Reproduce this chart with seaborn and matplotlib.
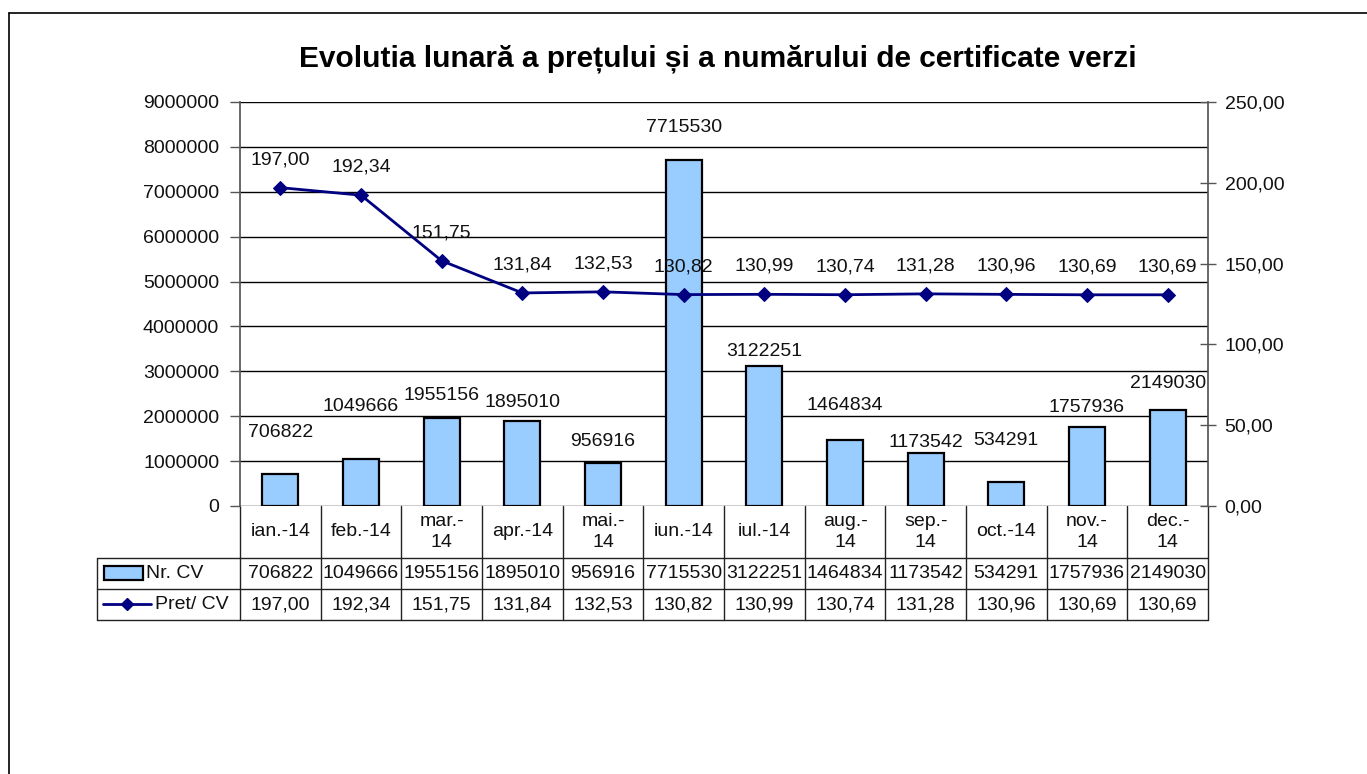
import matplotlib
matplotlib.use('Agg')
import matplotlib.pyplot as plt
import seaborn as sns
import pandas as pd
import numpy as np
from matplotlib.transforms import blended_transform_factory
from matplotlib.patches import Rectangle
from matplotlib.lines import Line2D

# ---------------- data ----------------
months = ["ian.-14", "feb.-14", "mar.-14", "apr.-14", "mai.-14", "iun.-14",
          "iul.-14", "aug.-14", "sep.-14", "oct.-14", "nov.-14", "dec.-14"]
month_labels = ["ian.-14", "feb.-14", "mar.-\n14", "apr.-14", "mai.-\n14", "iun.-14",
                "iul.-14", "aug.-\n14", "sep.-\n14", "oct.-14", "nov.-\n14", "dec.-\n14"]
nr_cv = [706822, 1049666, 1955156, 1895010, 956916, 7715530,
         3122251, 1464834, 1173542, 534291, 1757936, 2149030]
pret_cv = [197.00, 192.34, 151.75, 131.84, 132.53, 130.82,
           130.99, 130.74, 131.28, 130.96, 130.69, 130.69]
left_ticks = list(range(0, 9000001, 1000000))
right_ticks = [0, 50, 100, 150, 200, 250]

# label offsets above bar tops (pixels)
bar_label_offsets = [42, 52, 23, 18, 22, 32, 14, 35, 11, 42, 20, 26]

def fmt_ro(v):
    return f"{v:.2f}".replace('.', ',')

# ---------------- style ----------------
sns.set_theme(style="white")
plt.rcParams['font.family'] = ['Liberation Sans', 'DejaVu Sans']
FS = 14
TXT = '#111111'

W, H = 1367, 774
fig = plt.figure(figsize=(W / 100, H / 100), dpi=100)
fig.patch.set_facecolor('white')

def fx(px):
    return px / W

def fy(py):
    return 1 - py / H

PL, PR, PT, PB = 240, 1208, 102, 506
ax = fig.add_axes([fx(PL), fy(PB), (PR - PL) / W, (PB - PT) / H])

df = pd.DataFrame({'luna': months, 'nr': nr_cv})
sns.barplot(data=df, x='luna', y='nr', ax=ax, color='#99CCFF', saturation=1,
            width=0.45, edgecolor='black', linewidth=1.6, zorder=3)
ax.set_xlim(-0.5, 11.5)
ax.set_ylim(0, 9000000)
ax.set_yticks(left_ticks)
ax.set_yticklabels([str(v) for v in left_ticks], fontsize=FS, color=TXT)
ax.yaxis.grid(True, color='black', linewidth=1)
ax.xaxis.grid(False)
ax.set_axisbelow(True)
ax.set_xlabel('')
ax.set_ylabel('')
ax.tick_params(axis='x', bottom=False, labelbottom=False)
ax.tick_params(axis='y', left=True, direction='out', length=7, width=1, color='#555555', pad=8)
for s in ['top', 'bottom']:
    ax.spines[s].set_visible(False)
ax.spines['left'].set_color('#555555')
ax.spines['right'].set_visible(False)

for i, (v, off) in enumerate(zip(nr_cv, bar_label_offsets)):
    ax.annotate(str(v), (i, v), xytext=(0, off), textcoords='offset pixels',
                ha='center', va='center', fontsize=FS, color=TXT, zorder=5)

# secondary axis with price line
ax2 = ax.twinx()
sns.lineplot(x=np.arange(len(pret_cv)), y=pret_cv, ax=ax2, color='#000080',
             marker='D', markersize=7, markeredgecolor='#000080', linewidth=2)
ax2.set_ylim(0, 250)
ax2.set_xlim(-0.5, 11.5)
ax2.set_yticks(right_ticks)
ax2.set_yticklabels([fmt_ro(v) for v in right_ticks], fontsize=FS, color=TXT)
ax2.tick_params(axis='y', right=True, direction='inout', length=12, width=1, color='#555555', pad=6)
for s in ['top', 'bottom', 'left']:
    ax2.spines[s].set_visible(False)
ax2.spines['right'].set_color('#555555')
ax2.grid(False)
ax2.set_ylabel('')

for i, p in enumerate(pret_cv):
    ax2.annotate(fmt_ro(p), (i, p), xytext=(0, 28), textcoords='offset pixels',
                 ha='center', va='center', fontsize=FS, color=TXT)

# ---------------- data table ----------------
trans = blended_transform_factory(ax.transData, ax.transAxes)
ph = PB - PT
catw = (PR - PL) / 12.0

def dx(px):
    return -0.5 + (px - PL) / catw

def ay(py):
    return (PB - py) / ph

r0, r1, r2, r3 = ay(506), ay(558), ay(589), ay(620)
xl = dx(97)
lc = '#222222'
for i in range(13):
    ax.add_line(Line2D([i - 0.5, i - 0.5], [r0, r3], transform=trans, color=lc, lw=1, clip_on=False))
ax.add_line(Line2D([xl, xl], [r1, r3], transform=trans, color=lc, lw=1, clip_on=False))
for r in (r1, r2, r3):
    ax.add_line(Line2D([xl, 11.5], [r, r], transform=trans, color=lc, lw=1, clip_on=False))

for i in range(12):
    ax.text(i, (r0 + r1) / 2, month_labels[i], transform=trans, ha='center', va='center',
            fontsize=FS, color=TXT, linespacing=1.25)
    ax.text(i, (r1 + r2) / 2, str(nr_cv[i]), transform=trans, ha='center', va='center',
            fontsize=FS, color=TXT)
    ax.text(i, (r2 + r3) / 2, fmt_ro(pret_cv[i]), transform=trans, ha='center', va='center',
            fontsize=FS, color=TXT)

# legend keys inside the table
ax.add_patch(Rectangle((dx(104), ay(580)), dx(143) - dx(104), ay(566) - ay(580),
                       transform=trans, facecolor='#99CCFF', edgecolor='black', lw=1.6, clip_on=False))
ax.text(dx(146), (r1 + r2) / 2, "Nr. CV", transform=trans, ha='left', va='center', fontsize=FS, color=TXT)
ax.add_line(Line2D([dx(103), dx(151)], [ay(604), ay(604)], transform=trans, color='#000080', lw=2, clip_on=False))
ax.add_line(Line2D([dx(127)], [ay(604)], transform=trans, color='#000080', marker='D', markersize=6,
                   clip_on=False))
ax.text(dx(155), (r2 + r3) / 2, "Pret/ CV", transform=trans, ha='left', va='center', fontsize=FS, color=TXT)

# title
fig.text(fx(718), fy(59), "Evolutia lunară a prețului și a numărului de certificate verzi",
         ha='center', va='center', fontsize=21.5, fontweight='bold', color='black')

# outer chart border
fig.add_artist(Line2D([fx(9), fx(9)], [fy(13), 0], transform=fig.transFigure, color='black', lw=1.2))
fig.add_artist(Line2D([fx(9), 1], [fy(13), fy(13)], transform=fig.transFigure, color='black', lw=1.2))

fig.savefig('out.png', dpi=100)
